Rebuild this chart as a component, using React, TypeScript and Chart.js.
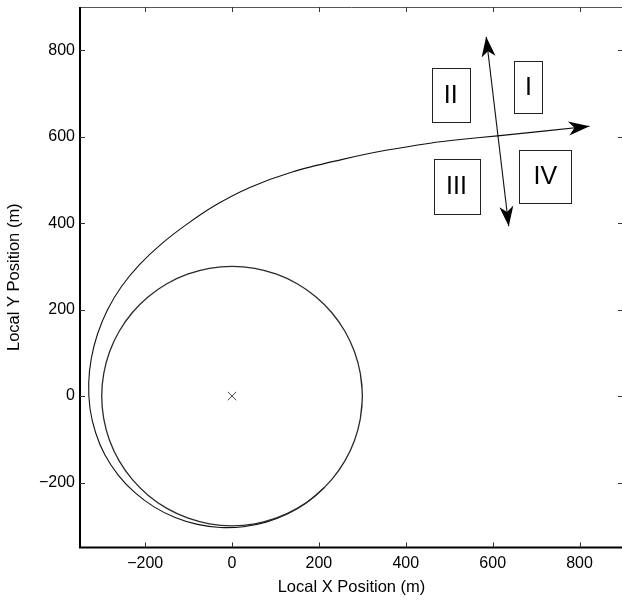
import React, { useEffect, useRef } from 'react';
import { Chart, registerables } from 'chart.js';

Chart.register(...registerables);

// Axis extents and tick values (metres)
const axisMin = -350;
const axisMax = 900;
const tickValues = [-200, 0, 200, 400, 600, 800];

// Loiter circle (radius ~300 m around the origin), 10 degree steps with overlap
const circleX = [295.4, 300, 295.4, 281.9, 259.8, 229.8, 192.8, 150, 102.6, 52.1, 0, -52.1, -102.6, -150, -192.8, -229.8, -259.8, -281.9, -295.4, -300, -295.4, -281.9, -259.8, -229.8, -192.8, -150, -102.6, -52.1, 0, 52.1, 102.6, 150, 192.8, 229.8, 259.8, 281.9, 295.4, 300, 295.4];
const circleY = [-52.1, 0, 52.1, 102.6, 150, 192.8, 229.8, 259.8, 281.9, 295.4, 300, 295.4, 281.9, 259.8, 229.8, 192.8, 150, 102.6, 52.1, 0, -52.1, -102.6, -150, -192.8, -229.8, -259.8, -281.9, -295.4, -300, -295.4, -281.9, -259.8, -229.8, -192.8, -150, -102.6, -52.1, 0, 52.1];

// Exit trajectory (clockwise spiral out of the circle, ending with an arrow)
const pathX = [212.1, 172.2, 127.2, 78.1, 26.4, -26.6, -79.5, -131.0, -179.5, -223.5, -261.6, -292.5, -314.2, -327.0, -330.0, -324.1, -309.5, -286.3, -254.1, -213.0, -163.7, -106.1, -38.6, 42.3, 138.5, 252, 354, 456, 531, 611, 823];
const pathY = [-212.1, -246.0, -272.7, -291.6, -302.1, -303.9, -296.8, -280.9, -256.3, -223.5, -183.2, -136.4, -84.2, -28.6, 28.9, 86.8, 144.3, 200.5, 254.1, 304.2, 351.0, 396.0, 441.3, 483.2, 518.5, 547, 568.5, 585, 594, 602, 624];

// Double-headed dividing arrow
const dividerX = [585, 637];
const dividerY = [831, 393];

// Centre marker
const centerX = [0];
const centerY = [0];

// Region labels and their boxes
const regionLabels = ['I', 'II', 'III', 'IV'];
const regionX1 = [650, 460, 464, 661];
const regionX2 = [715, 547, 569, 781];
const regionY1 = [655, 634, 421, 448];
const regionY2 = [775, 760, 549, 570];

const FONT = "'Liberation Sans', Arial, Helvetica, sans-serif";

const toPts = (xs: number[], ys: number[]) => xs.map((x, i) => ({ x, y: ys[i] }));

function arrowHead(ctx: CanvasRenderingContext2D, fx: number, fy: number, tx: number, ty: number, len = 20, half = 6.5, notch = 0.72) {
  const ang = Math.atan2(ty - fy, tx - fx);
  const c = Math.cos(ang);
  const s = Math.sin(ang);
  const bx = tx - len * c;
  const by = ty - len * s;
  const nx = tx - len * notch * c;
  const ny = ty - len * notch * s;
  ctx.beginPath();
  ctx.moveTo(tx, ty);
  ctx.lineTo(bx - half * s, by + half * c);
  ctx.lineTo(nx, ny);
  ctx.lineTo(bx + half * s, by - half * c);
  ctx.closePath();
  ctx.fill();
}

const decorPlugin = {
  id: 'decor',
  afterDatasetsDraw(chart: any) {
    const { ctx, chartArea, scales } = chart;
    const xs = scales.x;
    const ys = scales.y;
    ctx.save();

    // arrowheads
    ctx.fillStyle = '#000';
    const n = pathX.length;
    arrowHead(ctx, xs.getPixelForValue(pathX[n - 2]), ys.getPixelForValue(pathY[n - 2]), xs.getPixelForValue(pathX[n - 1]), ys.getPixelForValue(pathY[n - 1]), 21, 7);
    const ax = xs.getPixelForValue(dividerX[0]);
    const ay = ys.getPixelForValue(dividerY[0]);
    const bx = xs.getPixelForValue(dividerX[1]);
    const by = ys.getPixelForValue(dividerY[1]);
    arrowHead(ctx, bx, by, ax, ay, 20, 7);
    arrowHead(ctx, ax, ay, bx, by, 20, 7);

    // region boxes
    ctx.strokeStyle = '#222';
    ctx.lineWidth = 1;
    ctx.font = `25px ${FONT}`;
    ctx.textAlign = 'center';
    ctx.textBaseline = 'middle';
    regionLabels.forEach((lab, i) => {
      const x1 = xs.getPixelForValue(regionX1[i]);
      const x2 = xs.getPixelForValue(regionX2[i]);
      const y1 = ys.getPixelForValue(regionY2[i]);
      const y2 = ys.getPixelForValue(regionY1[i]);
      ctx.fillStyle = '#fff';
      ctx.fillRect(x1, y1, x2 - x1, y2 - y1);
      ctx.strokeRect(Math.round(x1) + 0.5, Math.round(y1) + 0.5, Math.round(x2 - x1), Math.round(y2 - y1));
      ctx.fillStyle = '#000';
      ctx.fillText(lab, (x1 + x2) / 2, (y1 + y2) / 2 + 1);
    });

    // frame
    const { left, right, top, bottom } = chartArea;
    ctx.strokeStyle = '#555';
    ctx.lineWidth = 1;
    ctx.beginPath();
    ctx.moveTo(left, top + 0.5);
    ctx.lineTo(right, top + 0.5);
    ctx.moveTo(right - 0.5, top);
    ctx.lineTo(right - 0.5, bottom);
    ctx.stroke();
    ctx.strokeStyle = '#000';
    ctx.lineWidth = 2;
    ctx.beginPath();
    ctx.moveTo(left, top);
    ctx.lineTo(left, bottom);
    ctx.lineTo(right, bottom);
    ctx.stroke();

    // inward ticks
    ctx.strokeStyle = '#333';
    ctx.lineWidth = 1;
    ctx.beginPath();
    tickValues.forEach((v) => {
      const px = Math.round(xs.getPixelForValue(v)) + 0.5;
      ctx.moveTo(px, bottom);
      ctx.lineTo(px, bottom - 5);
      ctx.moveTo(px, top);
      ctx.lineTo(px, top + 5);
      const py = Math.round(ys.getPixelForValue(v)) + 0.5;
      ctx.moveTo(left, py);
      ctx.lineTo(left + 5, py);
      ctx.moveTo(right, py);
      ctx.lineTo(right - 5, py);
    });
    ctx.stroke();
    ctx.restore();
  },
};

const fmt = (v: any) => {
  const n = Number(v);
  return n < 0 ? '\u2212' + Math.abs(n) : String(n);
};

export default function App() {
  const ref = useRef<HTMLCanvasElement>(null);

  useEffect(() => {
    if (!ref.current) return;
    const chart = new Chart(ref.current, {
      type: 'scatter',
      data: {
        datasets: [
          {
            data: toPts(circleX, circleY),
            showLine: true,
            borderColor: '#2a2a2a',
            borderWidth: 1.3,
            pointRadius: 0,
            tension: 0.33,
          },
          {
            data: toPts(pathX, pathY),
            showLine: true,
            borderColor: '#111',
            borderWidth: 1.1,
            pointRadius: 0,
            tension: 0.33,
          },
          {
            data: toPts(dividerX, dividerY),
            showLine: true,
            borderColor: '#111',
            borderWidth: 1.1,
            pointRadius: 0,
            tension: 0,
          },
          {
            data: toPts(centerX, centerY),
            showLine: false,
            pointStyle: 'crossRot',
            pointRadius: 6,
            borderColor: '#444',
            borderWidth: 1,
            backgroundColor: '#444',
          },
        ],
      },
      options: {
        animation: false,
        responsive: false,
        devicePixelRatio: 1,
        events: [],
        layout: { padding: { top: 3.3, right: 6, left: 0, bottom: 0 } },
        plugins: { legend: { display: false }, tooltip: { enabled: false } },
        scales: {
          x: {
            type: 'linear',
            min: axisMin,
            max: axisMax,
            grid: { display: false, drawTicks: false },
            border: { display: false },
            afterBuildTicks: (s: any) => {
              s.ticks = tickValues.map((v) => ({ value: v }));
            },
            afterFit: (s: any) => {
              s.height = 53.6;
              s.paddingLeft = 0;
              s.paddingRight = 0;
              s.paddingTop = 0;
              s.paddingBottom = 0;
            },
            ticks: {
              padding: 7,
              color: '#000',
              maxRotation: 0,
              autoSkip: false,
              font: { family: FONT, size: 16 },
              callback: fmt,
            },
            title: {
              display: true,
              text: 'Local X Position (m)',
              color: '#000',
              font: { family: FONT, size: 16.5 },
              padding: { top: 0, bottom: 4 },
            },
          },
          y: {
            type: 'linear',
            min: axisMin,
            max: axisMax,
            grid: { display: false, drawTicks: false },
            border: { display: false },
            afterBuildTicks: (s: any) => {
              s.ticks = tickValues.map((v) => ({ value: v }));
            },
            afterFit: (s: any) => {
              s.width = 80;
              s.paddingLeft = 0;
              s.paddingRight = 0;
              s.paddingTop = 0;
              s.paddingBottom = 0;
            },
            ticks: {
              padding: 5,
              color: '#000',
              autoSkip: false,
              font: { family: FONT, size: 16 },
              callback: fmt,
            },
            title: {
              display: true,
              text: 'Local Y Position (m)',
              color: '#000',
              font: { family: FONT, size: 16.5 },
              padding: { top: 4.5, bottom: 0 },
            },
          },
        },
      },
      plugins: [decorPlugin],
    });
    return () => chart.destroy();
  }, []);

  return (
    <div style={{ position: 'fixed', left: 0, top: 0, width: 622, height: 601, overflow: 'hidden', background: '#fff' }}>
      <canvas ref={ref} width={630} height={601} style={{ display: 'block', width: 630, height: 601 }} />
    </div>
  );
}
